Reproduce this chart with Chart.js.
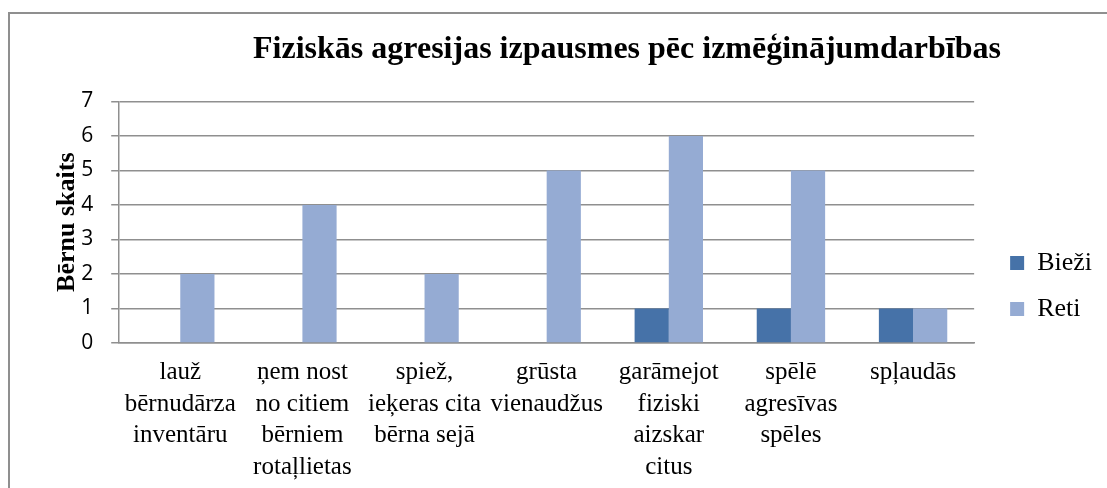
<!DOCTYPE html>
<html>
<head>
<meta charset="utf-8">
<script src="https://cdn.jsdelivr.net/npm/chart.js@4"></script>
<style>
  body { margin: 0; background: #fff; overflow: hidden; }
  #frame { position: absolute; left: 8px; top: 12px; width: 1200px; height: 600px; border: 2px solid #8f8f8f; box-sizing: border-box; }
  #wrap { position: absolute; left: 0; top: 0; width: 1107px; height: 488px; }
</style>
</head>
<body>
<div id="frame"></div>
<div id="wrap"><canvas id="c"></canvas></div>
<script>
const categories = [
  ['lauž', 'bērnudārza', 'inventāru'],
  ['ņem nost', 'no citiem', 'bērniem', 'rotaļlietas'],
  ['spiež,', 'ieķeras cita', 'bērna sejā'],
  ['grūsta', 'vienaudžus'],
  ['garāmejot', 'fiziski', 'aizskar', 'citus'],
  ['spēlē', 'agresīvas', 'spēles'],
  ['spļaudās']
];
const biezi = [0, 0, 0, 0, 1, 1, 1];
const reti = [2, 4, 2, 5, 6, 5, 1];
const yTicks = [0, 1, 2, 3, 4, 5, 6, 7];

const serif = '"Liberation Serif", "Times New Roman", serif';
const sans = '"Open Sans", "Liberation Sans", sans-serif';

// title sits right of the canvas centre, over the plot like in the original
const titleShift = {
  id: 'titleShift',
  afterLayout(chart) {
    chart.titleBlock.left += 56;
    chart.titleBlock.right += 56;
  }
};

const ctx = document.getElementById('c').getContext('2d');
new Chart(ctx, {
  type: 'bar',
  data: {
    labels: categories,
    datasets: [
      { label: 'Bieži', data: biezi, backgroundColor: '#4672A8', borderWidth: 0 },
      { label: 'Reti', data: reti, backgroundColor: '#95ABD3', borderWidth: 0 }
    ]
  },
  options: {
    responsive: true,
    maintainAspectRatio: false,
    animation: false,
    layout: { padding: { left: 40, right: 5, top: 0, bottom: -9 } },
    datasets: { bar: { categoryPercentage: 0.56, barPercentage: 1 } },
    scales: {
      x: {
        grid: { display: false, drawTicks: false },
        border: { display: true, color: '#8f8f8f', width: 1.5 },
        ticks: { color: '#000', font: { family: serif, size: 25, lineHeight: 1.26 }, padding: 14, maxRotation: 0, autoSkip: false }
      },
      y: {
        min: 0, max: 7,
        afterBuildTicks: (s) => { s.ticks = yTicks.map(v => ({ value: v })); },
        grid: { color: '#8f8f8f', lineWidth: 1.5, tickLength: 8 },
        border: { color: '#8f8f8f', width: 1.5 },
        ticks: { color: '#000', font: { family: sans, size: 21 }, padding: 18 },
        title: { display: true, text: 'Bērnu skaits', color: '#000', font: { family: serif, size: 26, weight: 'bold' }, padding: { top: 12, bottom: -20 } }
      },
      y2: {
        position: 'right',
        display: true,
        grid: { display: false, drawTicks: false },
        border: { display: false },
        ticks: { display: false },
        afterFit: (s) => { s.width = 16; }
      }
    },
    plugins: {
      title: {
        display: true,
        text: 'Fiziskās agresijas izpausmes pēc izmēģinājumdarbības',
        color: '#000',
        font: { family: serif, size: 32, weight: 'bold' },
        padding: { top: 31, bottom: 32 }
      },
      legend: {
        position: 'right',
        title: { display: true, text: ' ', font: { size: 1 }, padding: { top: 74, bottom: 0 } },
        labels: { color: '#000', font: { family: serif, size: 26 }, boxWidth: 14, boxHeight: 14, padding: 20 }
      },
      tooltip: { enabled: false }
    }
  },
  plugins: [titleShift]
});
</script>
</body>
</html>
